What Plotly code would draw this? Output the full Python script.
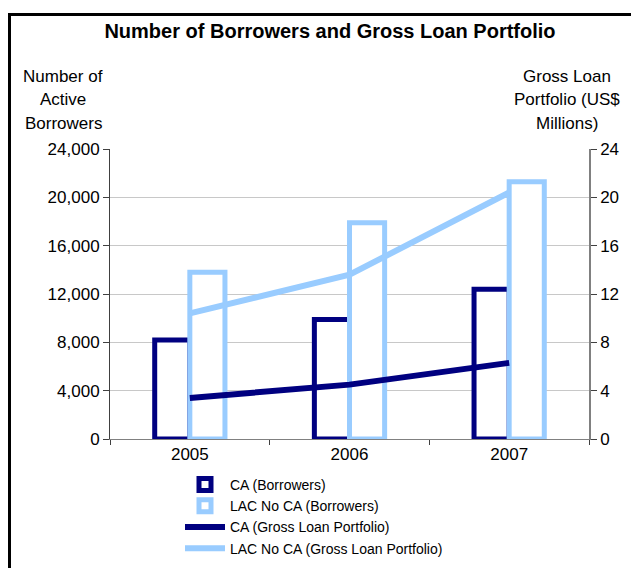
import plotly.graph_objects as go
from plotly.subplots import make_subplots

years = ["2005", "2006", "2007"]
ca_borrowers = [8200, 9900, 12400]
lac_borrowers = [13800, 17900, 21300]
ca_glp = [3.4, 4.5, 6.3]
lac_glp = [10.4, 13.6, 20.4]

left_ticks = [0, 4000, 8000, 12000, 16000, 20000, 24000]
right_ticks = [0, 4, 8, 12, 16, 20, 24]

left_title = ["Number of", "Active", "Borrowers"]
right_title = ["Gross Loan", "Portfolio (US$", "Millions)"]

NAVY = "#000080"
LIGHT = "#99CCFF"
FONT = "Liberation Sans"

fig = make_subplots(specs=[[{"secondary_y": True}]])

fig.add_trace(go.Bar(x=years, y=ca_borrowers, name="CA (Borrowers)",
                     marker=dict(color="white", line=dict(color=NAVY, width=5))),
              secondary_y=False)
fig.add_trace(go.Bar(x=years, y=lac_borrowers, name="LAC No CA (Borrowers)",
                     marker=dict(color="white", line=dict(color=LIGHT, width=5))),
              secondary_y=False)
fig.add_trace(go.Scatter(x=years, y=ca_glp, name="CA (Gross Loan Portfolio)",
                         mode="lines", line=dict(color=NAVY, width=6)),
              secondary_y=True)
fig.add_trace(go.Scatter(x=years, y=lac_glp, name="LAC No CA (Gross Loan Portfolio)",
                         mode="lines", line=dict(color=LIGHT, width=6)),
              secondary_y=True)

W, H = 631, 568
L, R, T, B = 110, 42, 149, 129
pw, ph = W - L - R, H - T - B

def px(x):
    return (x - L) / pw

def py(y):
    return (H - B - y) / ph

fig.update_layout(
    width=W, height=H,
    margin=dict(l=L, r=R, t=T, b=B, autoexpand=False),
    paper_bgcolor="white", plot_bgcolor="white",
    barmode="group", bargap=0.56, bargroupgap=0,
    font=dict(family=FONT, size=17, color="black"),
    title=dict(text="<b>Number of Borrowers and Gross Loan Portfolio</b>",
               x=px(330), xref="paper", xanchor="center", y=1 - 31 / H, yanchor="middle",
               font=dict(size=20, family=FONT, color="black")),
    showlegend=True,
    legend=dict(x=px(180), y=py(469), xanchor="left", yanchor="top",
                bgcolor="rgba(0,0,0,0)", font=dict(size=14, family=FONT),
                itemwidth=40, tracegroupgap=0, traceorder="normal"),
)

fig.update_xaxes(type="category", domain=[0, 1], showline=True, linecolor="#808080", linewidth=1,
                 ticks="outside", tickson="boundaries", ticklen=5, tickcolor="#404040",
                 showgrid=False, tickfont=dict(size=17))
fig.update_yaxes(range=[0, 24000], tickvals=left_ticks, tickformat=",d",
                 showline=True, linecolor="#404040", linewidth=1,
                 ticks="outside", ticklen=6, tickcolor="#404040",
                 gridcolor="#C8C8C8", gridwidth=1, zeroline=False,
                 tickfont=dict(size=17), secondary_y=False)
fig.update_yaxes(range=[0, 24], tickvals=right_ticks,
                 showline=True, linecolor="#808080", linewidth=1.5,
                 ticks="outside", ticklen=6, tickcolor="#404040",
                 showgrid=False, zeroline=False,
                 tickfont=dict(size=17), secondary_y=True)

for i, line in enumerate(left_title):
    fig.add_annotation(text=line, xref="paper", yref="paper",
                       x=px(63), y=py(76 + 23.5 * i), xanchor="center", yanchor="middle",
                       showarrow=False, font=dict(size=17, family=FONT))
for i, line in enumerate(right_title):
    fig.add_annotation(text=line, xref="paper", yref="paper",
                       x=px(567), y=py(76 + 23.5 * i), xanchor="center", yanchor="middle",
                       showarrow=False, font=dict(size=17, family=FONT))

fig.add_shape(type="rect", xref="paper", yref="paper",
              x0=px(9.5), y0=py(H + 20), x1=px(W + 20), y1=py(14.5),
              line=dict(color="black", width=3), fillcolor="rgba(0,0,0,0)", layer="below")

fig.write_html("out.html")
